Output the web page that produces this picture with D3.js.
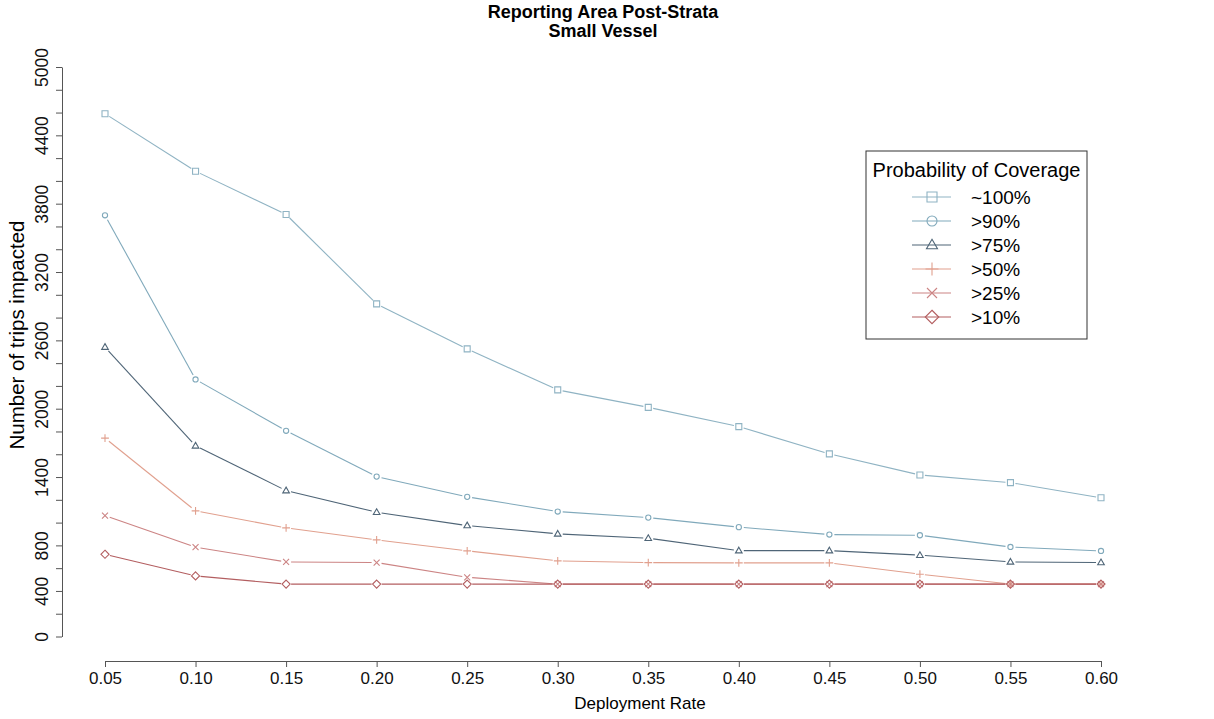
<!DOCTYPE html>
<html>
<head>
<meta charset="utf-8">
<script src="https://cdn.jsdelivr.net/npm/d3@7"></script>
<style>
  body { margin: 0; background: #fff; }
  svg { font-family: "Liberation Sans", Arial, sans-serif; }
</style>
</head>
<body>
<svg id="vis"></svg>
<script>
// deployment rates (x)
const rates = [0.05, 0.10, 0.15, 0.20, 0.25, 0.30, 0.35, 0.40, 0.45, 0.50, 0.55, 0.60];

// number of trips impacted, one array per coverage level
const cov100 = [4590, 4085, 3705, 2920, 2525, 2165, 2012, 1843, 1603, 1418, 1351, 1218];
const cov90  = [3698, 2257, 1806, 1404, 1226, 1097, 1044, 960, 895, 889, 786, 751];
const cov75  = [2541, 1674, 1281, 1091, 974, 901, 863, 754, 754, 714, 655, 650];
const cov50  = [1742, 1103, 954, 848, 752, 664, 649, 646, 646, 547, 460, 460];
const cov25  = [1061, 784, 655, 649, 520, 460, 460, 460, 460, 460, 460, 460];
const cov10  = [722, 532, 460, 460, 460, 460, 460, 460, 460, 460, 460, 460];

const seriesNames = ["~100%", ">90%", ">75%", ">50%", ">25%", ">10%"];

// tick values
const xTicks = rates;
const yTicks = d3.range(0, 5001, 200);
const yLabels = [0, 400, 800, 1400, 2000, 2600, 3200, 3800, 4400, 5000];

let config = {
  'svg': {},
  'plot': {},
  'legend': {}
};

config.svg.width = 1214;
config.svg.height = 719;

config.plot.left = 105;
config.plot.right = 1101;
config.plot.top = 67;
config.plot.bottom = 636.5;
config.plot.axisX = 62;
config.plot.axisY = 661;

config.legend.x = 866;
config.legend.y = 151;
config.legend.width = 221;
config.legend.height = 188;

const styles = [
  { shape: 'square',   color: '#8fb3c3' },
  { shape: 'circle',   color: '#80a9bb' },
  { shape: 'triangle', color: '#4f6577' },
  { shape: 'plus',     color: '#e1a08e' },
  { shape: 'cross',    color: '#cc8484' },
  { shape: 'diamond',  color: '#b35e60' }
];

const series = [cov100, cov90, cov75, cov50, cov25, cov10].map(function(vals, i) {
  return {
    name: seriesNames[i],
    shape: styles[i].shape,
    color: styles[i].color,
    values: vals.map((v, j) => ({ x: rates[j], y: v }))
  };
});

const svg = d3.select("svg#vis")
  .attr('width', config.svg.width)
  .attr('height', config.svg.height);

let scale = {};
scale.x = d3.scaleLinear()
  .domain([0.05, 0.60])
  .range([config.plot.left, config.plot.right]);
scale.y = d3.scaleLinear()
  .domain([0, 5000])
  .range([config.plot.bottom, config.plot.top]);

// R-ish open point symbols
function markerPath(shape, r) {
  let p = d3.path();
  switch (shape) {
    case 'square':
      p.rect(-r, -r, 2 * r, 2 * r);
      break;
    case 'circle':
      p.arc(0, 0, r, 0, 2 * Math.PI);
      break;
    case 'triangle':
      p.moveTo(0, -r * 1.15);
      p.lineTo(r * 1.1, r * 0.75);
      p.lineTo(-r * 1.1, r * 0.75);
      p.closePath();
      break;
    case 'plus':
      p.moveTo(-r * 1.3, 0); p.lineTo(r * 1.3, 0);
      p.moveTo(0, -r * 1.3); p.lineTo(0, r * 1.3);
      break;
    case 'cross':
      p.moveTo(-r, -r); p.lineTo(r, r);
      p.moveTo(-r, r); p.lineTo(r, -r);
      break;
    case 'diamond':
      p.moveTo(0, -r * 1.35); p.lineTo(r * 1.35, 0);
      p.lineTo(0, r * 1.35); p.lineTo(-r * 1.35, 0);
      p.closePath();
      break;
  }
  return p.toString();
}

// axes
let axis = {};
axis.x = d3.axisBottom(scale.x)
  .tickValues(xTicks)
  .tickFormat(d3.format(".2f"))
  .tickSize(6)
  .tickSizeOuter(0)
  .tickPadding(5);

axis.y = d3.axisLeft(scale.y)
  .tickValues(yTicks)
  .tickFormat(d => yLabels.includes(d) ? d : "")
  .tickSize(6)
  .tickSizeOuter(0);

let gx = svg.append("g")
  .attr("id", "x-axis")
  .attr("transform", translate(0, config.plot.axisY))
  .call(axis.x);

let gy = svg.append("g")
  .attr("id", "y-axis")
  .attr("transform", translate(config.plot.axisX, 0))
  .call(axis.y);

svg.selectAll("#x-axis path, #y-axis path, #x-axis line, #y-axis line")
  .attr("stroke", "#555");

gx.selectAll("text")
  .attr("font-size", "17px")
  .attr("fill", "#111")
  .attr("font-family", "Liberation Sans, Arial, sans-serif");

// rotated y tick labels, reading bottom to top
gy.selectAll("text")
  .attr("font-size", "17.5px")
  .attr("fill", "#111")
  .attr("font-family", "Liberation Sans, Arial, sans-serif")
  .attr("text-anchor", "middle")
  .attr("transform", "rotate(-90)")
  .attr("x", 0)
  .attr("y", -14)
  .attr("dy", 0);

// lines with gaps round points (R type = "b")
let plot = svg.append("g").attr("id", "plot");
const gap = 5;

series.forEach(function(s) {
  let g = plot.append("g");
  let segs = d3.pairs(s.values).map(function(pair) {
    let x1 = scale.x(pair[0].x), y1 = scale.y(pair[0].y);
    let x2 = scale.x(pair[1].x), y2 = scale.y(pair[1].y);
    let len = Math.hypot(x2 - x1, y2 - y1);
    let ux = (x2 - x1) / len, uy = (y2 - y1) / len;
    return [x1 + ux * gap, y1 + uy * gap, x2 - ux * gap, y2 - uy * gap];
  });

  g.selectAll("line")
    .data(segs)
    .enter()
    .append("line")
    .attr("x1", d => d[0])
    .attr("y1", d => d[1])
    .attr("x2", d => d[2])
    .attr("y2", d => d[3])
    .attr("stroke", s.color)
    .attr("stroke-width", 1.1);

  g.selectAll("path")
    .data(s.values)
    .enter()
    .append("path")
    .attr("transform", d => translate(scale.x(d.x), scale.y(d.y)))
    .attr("d", markerPath(s.shape, s.shape === 'circle' ? 2.6 : 3))
    .attr("fill", "none")
    .attr("stroke", s.color)
    .attr("stroke-width", 1.1);
});

drawTitles();
drawLegend();

function drawTitles() {
  svg.append("text")
    .text("Reporting Area Post-Strata")
    .attr("x", 603)
    .attr("y", 18)
    .attr("text-anchor", "middle")
    .attr("font-size", "18px")
    .attr("font-weight", "bold");

  svg.append("text")
    .text("Small Vessel")
    .attr("x", 603)
    .attr("y", 37)
    .attr("text-anchor", "middle")
    .attr("font-size", "18px")
    .attr("font-weight", "bold");

  svg.append("text")
    .text("Deployment Rate")
    .attr("x", 640)
    .attr("y", 709)
    .attr("text-anchor", "middle")
    .attr("font-size", "17px");

  svg.append("text")
    .text("Number of trips impacted")
    .attr("transform", "translate(24,335) rotate(-90)")
    .attr("text-anchor", "middle")
    .attr("font-size", "20.5px");
}

function drawLegend() {
  let legend = svg.append("g")
    .attr("id", "legend")
    .attr("transform", translate(config.legend.x, config.legend.y));

  legend.append("rect")
    .attr("width", config.legend.width)
    .attr("height", config.legend.height)
    .attr("fill", "#fff")
    .attr("stroke", "#333")
    .attr("stroke-width", 1);

  legend.append("text")
    .text("Probability of Coverage")
    .attr("x", config.legend.width / 2)
    .attr("y", 26)
    .attr("text-anchor", "middle")
    .attr("font-size", "20px");

  let rows = legend.selectAll("g.row")
    .data(series)
    .enter()
    .append("g")
    .attr("class", "row")
    .attr("transform", (d, i) => translate(0, 46 + i * 24));

  rows.append("line")
    .attr("x1", 46)
    .attr("x2", 85)
    .attr("stroke", d => d.color)
    .attr("stroke-width", 1.1);

  rows.append("path")
    .attr("transform", translate(66, 0))
    .attr("d", d => markerPath(d.shape, 5))
    .attr("fill", "none")
    .attr("stroke", d => d.color)
    .attr("stroke-width", 1.1);

  rows.append("text")
    .text(d => d.name)
    .attr("x", 105)
    .attr("y", 7)
    .attr("font-size", "19px");
}

function translate(x, y) {
  return 'translate(' + x + ',' + y + ')';
}
</script>
</body>
</html>
